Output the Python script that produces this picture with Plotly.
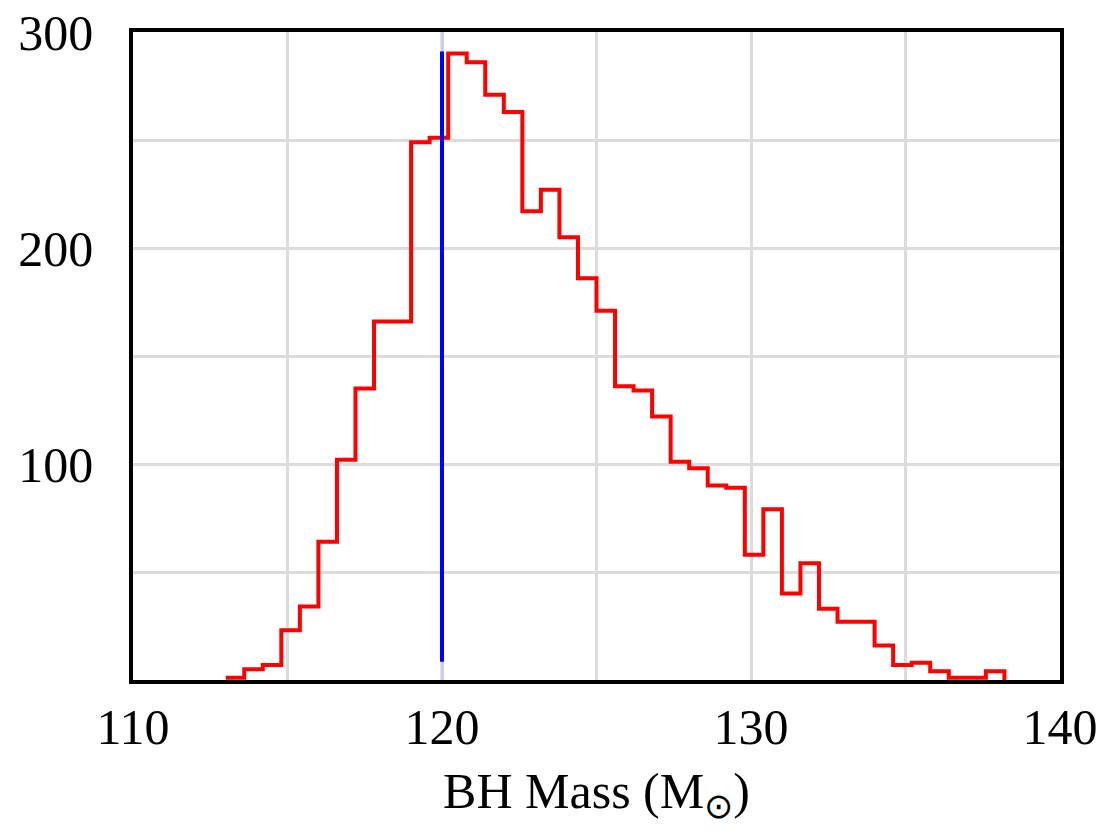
import numpy as np
import plotly.graph_objects as go

# Histogram of black-hole masses (0.6 Msun bins starting at 113.0 Msun)
bin_start = 113.0
bin_width = 0.6
counts = [1, 5, 7, 23, 34, 64, 102, 135, 166, 166, 249, 251, 290, 286, 271,
          263, 217, 227, 205, 186, 171, 136, 134, 122, 101, 98, 90, 89, 58,
          79, 40, 54, 33, 27, 27, 16, 7, 8, 4, 1, 1, 4]
reference_mass = 120.0
reference_span = [8.5, 291.0]

x_ticks = [110, 120, 130, 140]
y_ticks = [100, 200, 300]

edges = np.round(bin_start + bin_width * np.arange(len(counts) + 1), 2)
x_range = [110, 140]
y_range = [0, 300]

# step outline: each bin level held until the next edge, then dropped to zero
step_x = list(edges) + [edges[-1]]
step_y = counts + [counts[-1], 0]

font_family = "Liberation Serif, Times New Roman, serif"
grid_color = "#dcdcdc"

fig = go.Figure()

# faint full-height marker line behind the reference mass
fig.add_trace(go.Scatter(
    x=[reference_mass, reference_mass], y=y_range, mode="lines",
    line=dict(color="#c9c9f2", width=3), hoverinfo="skip", showlegend=False))

fig.add_trace(go.Scatter(
    x=step_x, y=step_y, mode="lines", line_shape="hv",
    line=dict(color="#ff0000", width=4), showlegend=False))

fig.add_trace(go.Scatter(
    x=[reference_mass, reference_mass], y=reference_span, mode="lines",
    line=dict(color="#0000ff", width=4), showlegend=False))

fig.update_layout(
    width=1108, height=835,
    margin=dict(l=133, r=48, t=32, b=155),
    paper_bgcolor="white", plot_bgcolor="white",
    font=dict(family=font_family, size=50, color="black"),
    showlegend=False,
)

fig.update_xaxes(
    range=x_range, tickvals=x_ticks, ticks="", showgrid=True,
    gridcolor=grid_color, gridwidth=3,
    minor=dict(dtick=5, tick0=110, showgrid=True, gridcolor=grid_color, gridwidth=3),
    showline=True, linecolor="black", linewidth=3.5, mirror=True,
    ticklabelstandoff=0, zeroline=False, automargin=False,
    title=dict(text="BH Mass (M<sub>⊙</sub>)", font=dict(size=50), standoff=20),
)

fig.update_yaxes(
    range=y_range, tickvals=y_ticks, ticks="", showgrid=True,
    gridcolor=grid_color, gridwidth=3,
    minor=dict(dtick=50, tick0=0, showgrid=True, gridcolor=grid_color, gridwidth=3),
    showline=True, linecolor="black", linewidth=3.5, mirror=True,
    ticklabelstandoff=26, zeroline=False, automargin=False,
)

fig.write_html("out.html")
